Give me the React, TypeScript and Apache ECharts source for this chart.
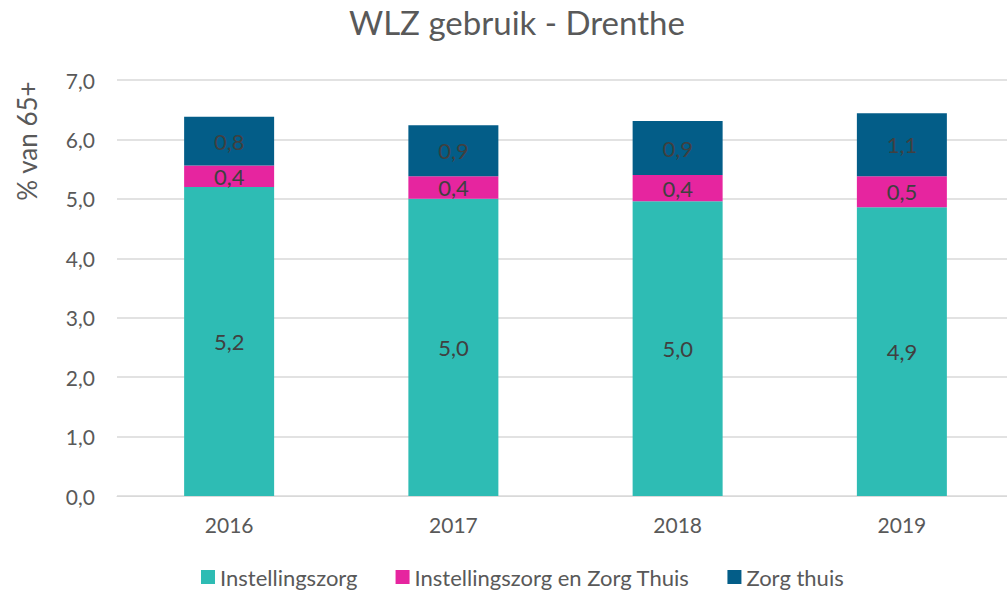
import React, { useEffect, useRef } from "react";
import * as echarts from "echarts";

const categories = ["2016", "2017", "2018", "2019"];
const instellingszorg = [5.2, 5.0, 4.96, 4.86];
const instellingszorgEnZorgThuis = [0.36, 0.38, 0.44, 0.52];
const zorgThuis = [0.82, 0.86, 0.91, 1.06];
const seriesNames = ["Instellingszorg", "Instellingszorg en Zorg Thuis", "Zorg thuis"];
const colors = ["#2EBCB4", "#E6259F", "#035D88"];
const yAxisTitle = "% van 65+";

const FONT = "Lato, 'Open Sans', sans-serif";
const fmt = (v: number) => (Math.round(v * 10) / 10).toFixed(1).replace(".", ",");

export default function App() {
  const ref = useRef<HTMLDivElement>(null);
  useEffect(() => {
    if (!ref.current) return;
    const chart = echarts.init(ref.current, undefined, { renderer: "svg" });
    const mk = (name: string, data: number[], color: string) => ({
      name,
      type: "bar",
      stack: "a",
      data,
      barWidth: 90,
      itemStyle: { color },
      label: {
        show: true,
        position: "inside",
        color: "#404040",
        fontSize: 22,
        fontFamily: FONT,
        formatter: (p: any) => fmt(p.value),
      },
    });
    chart.setOption({
      animation: false,
      textStyle: { fontFamily: FONT },
      title: {
        text: "WLZ gebruik - Drenthe",
        left: 344,
        top: 0,
        textStyle: { fontSize: 33, fontWeight: "normal", color: "#595959", fontFamily: FONT },
      },
      legend: {
        bottom: 0,
        left: 196,
        itemWidth: 14,
        itemHeight: 14,
        itemGap: 38,
        icon: "rect",
        textStyle: { fontSize: 22, color: "#595959", fontFamily: FONT },
        data: seriesNames,
      },
      graphic: [
        {
          type: "text",
          x: 27,
          y: 141,
          rotation: Math.PI / 2,
          style: {
            text: yAxisTitle,
            fontSize: 26,
            fill: "#595959",
            fontFamily: FONT,
            textAlign: "center",
            textVerticalAlign: "middle",
          },
        },
      ],
      grid: { left: 117, top: 80, right: -7, bottom: 97, outerBoundsMode: "none" },
      xAxis: {
        type: "category",
        data: categories,
        axisLine: { lineStyle: { color: "#D9D9D9" } },
        axisTick: { show: false },
        axisLabel: { fontSize: 21, color: "#595959", margin: 18, fontFamily: FONT },
      },
      yAxis: {
        type: "value",
        min: 0,
        max: 7,
        interval: 1,
        axisLine: { show: false },
        axisTick: { show: false },
        axisLabel: { fontSize: 21, color: "#595959", margin: 22, formatter: (v: number) => fmt(v), fontFamily: FONT },
        splitLine: { lineStyle: { color: "#D9D9D9", width: 1.5 } },
      },
      series: [
        mk(seriesNames[0], instellingszorg, colors[0]),
        mk(seriesNames[1], instellingszorgEnZorgThuis, colors[1]),
        mk(seriesNames[2], zorgThuis, colors[2]),
      ],
    });
    return () => chart.dispose();
  }, []);
  return (
    <div
      ref={ref}
      style={{ position: "fixed", left: 0, top: 0, width: 1007, height: 593, background: "#fff" }}
    />
  );
}
